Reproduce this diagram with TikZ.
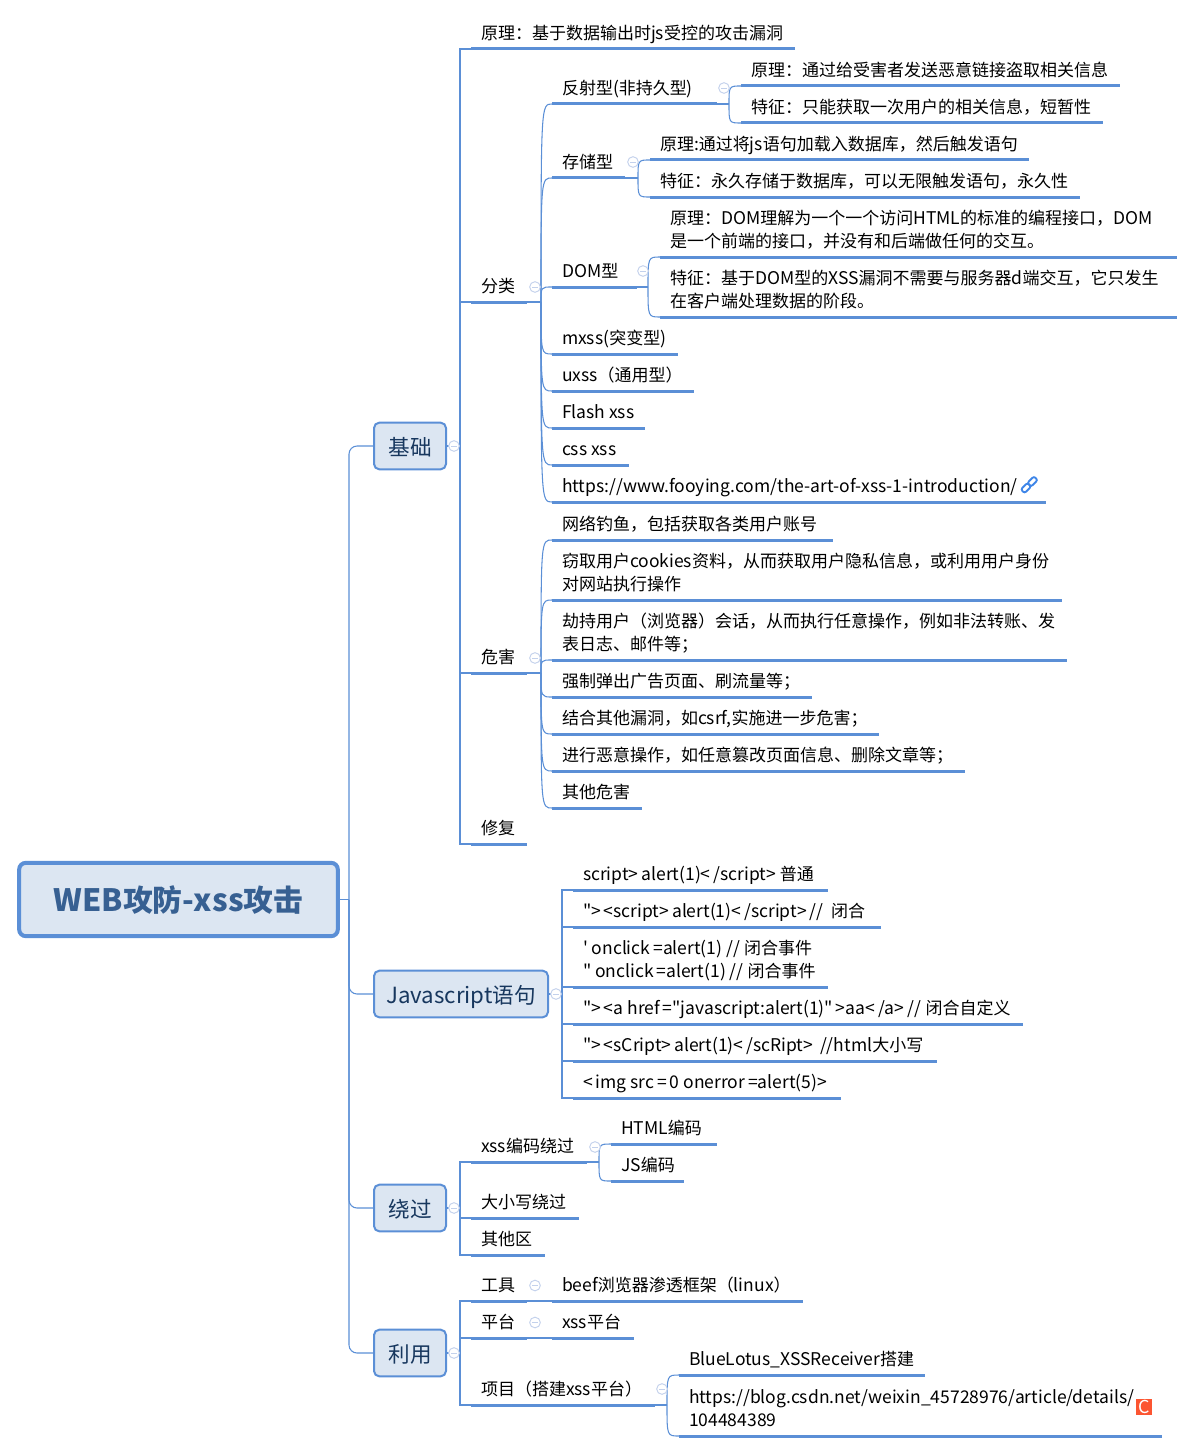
\documentclass[tikz,border=0pt]{standalone}
\usepackage{fontspec}
\usetikzlibrary{positioning}
\newfontfamily\mapcjk{Noto Sans CJK SC}
\newfontfamily\maplatin[Scale=1.03]{Noto Sans CJK SC}
% Han and full-width signs stay at full size, the rest is set a little larger
\newXeTeXintercharclass\hanclass
\count255="20
\loop\XeTeXcharclass\count255=0 \ifnum\count255<"7E \advance\count255 by 1 \repeat
\count255="3000
\loop\XeTeXcharclass\count255=\hanclass \ifnum\count255<"303F \advance\count255 by 1 \repeat
\count255="4E00
\loop\XeTeXcharclass\count255=\hanclass \ifnum\count255<"9FFF \advance\count255 by 1 \repeat
\count255="FF00
\loop\XeTeXcharclass\count255=\hanclass \ifnum\count255<"FFEF \advance\count255 by 1 \repeat
\XeTeXinterchartoks 0 \hanclass = {\mapcjk}
\XeTeXinterchartoks \hanclass 0 = {\maplatin}
\XeTeXinterchartoks 4095 0 = {\maplatin}
\XeTeXinterchartoks 4095 \hanclass = {\mapcjk}
\XeTeXinterchartokenstate=1

\definecolor{linkblue}{HTML}{5B8FD6}
\definecolor{rootfill}{HTML}{DCE6F2}
\definecolor{roottext}{HTML}{376092}
\definecolor{boxtext}{HTML}{17375E}
\definecolor{foldblue}{HTML}{C3D1EC}
\definecolor{chainblue}{HTML}{3F86E8}
\definecolor{csdnred}{HTML}{FC5531}

\tikzset{
  topic/.style={anchor=south west,inner xsep=7.5pt,inner ysep=0pt,outer sep=0pt,align=flush left,
    execute at end node={\vrule width 0pt depth 7.1pt},font=\mapcjk\fontsize{12.75}{17.25}\selectfont},
  rule/.style={draw=linkblue,line width=2.25pt},
  branch/.style={draw=linkblue,line width=0.8pt},
  rootbox/.style={draw=linkblue,fill=rootfill,line width=3pt,rounded corners=5pt,outer sep=0pt,
    minimum width=239pt,minimum height=55pt,text=roottext,text height=19.5pt,text depth=1pt,
    font=\mapcjk\bfseries\fontsize{22.4}{26}\selectfont},
  mainbox/.style={draw=linkblue,fill=rootfill,line width=1.5pt,rounded corners=4pt,outer sep=0pt,
    minimum width=54pt,minimum height=35pt,text=boxtext,text height=15pt,text depth=1.2pt,
    font=\mapcjk\fontsize{16.2}{20}\selectfont},
  fold/.style={circle,draw=foldblue,fill=white,line width=0.7pt,minimum size=8pt,inner sep=0pt,outer sep=0pt,
    path picture={\draw[foldblue,line width=0.7pt] ([xshift=-2pt]path picture bounding box.center) -- ([xshift=2pt]path picture bounding box.center);}},
  chainlink/.style={draw=chainblue,line width=1.4pt,rounded corners=1.6pt,minimum width=7pt,minimum height=4pt,inner sep=0pt,outer sep=0pt},
  csdn/.style={fill=csdnred,text=white,minimum size=12pt,inner sep=0pt,outer sep=0pt,font=\mapcjk\fontsize{13}{13}\selectfont}
}

% name, left, right, y of the rule, text
\newcommand{\topic}[5]{
  \pgfmathsetmacro\tw{(#3-#2-20)*0.75}
  \node[topic,text width=\tw pt] (#1) at (#2,#4) {#5};
  \draw[rule] (#1.south west) -- (#1.south east);
}
% parent, gap, children
\newcommand{\fan}[3]{
  \draw[branch] (#1.south east) -- ++(#2,0) coordinate (#1fork);
  \foreach \kid in {#3}
    \draw[branch] (#1fork) .. controls (#1fork |- \kid.south west) .. (\kid.south west);
}

\begin{document}
\begin{tikzpicture}[x=0.75pt,y=-0.75pt]
\useasboundingbox (0,0) rectangle (1194,1452);

\node[rootbox] (root) at (178.5,899.5) {WEB攻防-xss攻击};
\node[mainbox] (base) at (410,446) {基础};
\node[mainbox,minimum width=130.5pt] (js) at (461,994) {Javascript语句};
\node[mainbox] (bypass) at (410,1208) {绕过};
\node[mainbox] (use) at (410,1353) {利用};

% base
\topic{basetheory}{471}{795}{49}{原理：基于数据输出时js受控的攻击漏洞}
\topic{kinds}{471}{527}{302}{分类}
\topic{harm}{471}{527}{673}{危害}
\topic{fix}{471}{527}{844}{修复}

\topic{reflect}{552}{717}{104}{反射型(非持久型)}
\topic{store}{552}{625}{178}{存储型}
\topic{dom}{552}{637}{287}{DOM型}
\topic{mxss}{552}{678}{354}{mxss(突变型)}
\topic{uxss}{552}{694}{391}{uxss（通用型）}
\topic{flash}{552}{645}{428}{Flash~xss}
\topic{css}{552}{629}{465}{css~xss}
\topic{url}{552}{1046}{502}{https://www.fooying.com/the-art-of-xss-1-introduction/}

\topic{reflecta}{741}{1120}{86}{原理：通过给受害者发送恶意链接盗取相关信息}
\topic{reflectb}{741}{1103}{123}{特征：只能获取一次用户的相关信息，短暂性}
\topic{storea}{650}{1029}{160}{原理:通过将js语句加载入数据库，然后触发语句}
\topic{storeb}{650}{1080}{197}{特征：永久存储于数据库，可以无限触发语句，永久性}
\topic{doma}{660}{1177}{257}{原理：DOM理解为一个一个访问HTML的标准的编程接口，DOM\\是一个前端的接口，并没有和后端做任何的交互。}
\topic{domb}{660}{1177}{317}{特征：基于DOM型的XSS漏洞不需要与服务器d端交互，它只发生\\在客户端处理数据的阶段。}

\topic{harma}{552}{833}{540}{网络钓鱼，包括获取各类用户账号}
\topic{harmb}{552}{1062}{600}{窃取用户cookies资料，从而获取用户隐私信息，或利用用户身份\\对网站执行操作}
\topic{harmc}{552}{1067}{660}{劫持用户（浏览器）会话，从而执行任意操作，例如非法转账、发\\表日志、邮件等；}
\topic{harmd}{552}{812}{697}{强制弹出广告页面、刷流量等；}
\topic{harme}{552}{879}{734}{结合其他漏洞，如csrf,实施进一步危害；}
\topic{harmf}{552}{965}{771}{进行恶意操作，如任意篡改页面信息、删除文章等；}
\topic{harmg}{552}{642}{808}{其他危害}

% js
\topic{jsa}{573}{828}{890}{script>\,alert(1)<\,/script>~普通}
\topic{jsb}{573}{881}{927}{">\,<script>\,alert(1)<\,/script>\,//~~闭合}
\topic{jsc}{573}{828}{987}{'~onclick\,=alert(1)~//~闭合事件\\"~onclick\,=alert(1)~//~闭合事件}
\topic{jsd}{573}{1023}{1024}{">\,<a~href\,="javascript:alert(1)"\,>aa<\,/a>~//~闭合自定义}
\topic{jse}{573}{937}{1061}{">\,<sCript>\,alert(1)<\,/scRipt>\,~//html大小写}
\topic{jsf}{573}{841}{1098}{<\,img~src\,=\,0~onerror\,=alert(5)>}

% bypass
\topic{encode}{471}{587}{1162}{xss编码绕过}
\topic{casing}{471}{579}{1218}{大小写绕过}
\topic{otherarea}{471}{545}{1255}{其他区}
\topic{html}{611}{717}{1144}{HTML编码}
\topic{jscode}{611}{684}{1181}{JS编码}

% use
\topic{tool}{471}{527}{1301}{工具}
\topic{platform}{471}{527}{1338}{平台}
\topic{project}{471}{655}{1405}{项目（搭建xss平台）}
\topic{beef}{552}{803}{1301}{beef浏览器渗透框架（linux）}
\topic{xssplat}{552}{634}{1338}{xss平台}
\topic{lotus}{679}{925}{1375}{BlueLotus\_XSSReceiver搭建}
\topic{blog}{679}{1162}{1436}{https://blog.csdn.net/weixin\_45728976/article/details/\\104484389}

% connectors
\coordinate (spine) at (349,899.5);
\draw[branch] (root.east) -- (spine);
\foreach \kid in {base,js,bypass,use}
  \draw[branch,rounded corners=6pt] (spine) |- (\kid.west);

\coordinate (basefork) at (460,446);
\draw[branch] (base.east) -- (basefork);
\foreach \kid in {basetheory,kinds,harm,fix}
  \draw[branch] (basefork) |- (\kid.south west);

\coordinate (jsfork) at (562,994);
\draw[branch] (js.east) -- (jsfork);
\foreach \kid in {jsa,jsb,jsc,jsd,jse,jsf}
  \draw[branch] (jsfork) |- (\kid.south west);

\coordinate (bypassfork) at (460,1208);
\draw[branch] (bypass.east) -- (bypassfork);
\foreach \kid in {encode,casing,otherarea}
  \draw[branch] (bypassfork) |- (\kid.south west);

\coordinate (usefork) at (460,1353);
\draw[branch] (use.east) -- (usefork);
\foreach \kid in {tool,platform,project}
  \draw[branch] (usefork) |- (\kid.south west);

\fan{kinds}{14}{reflect,store,dom,mxss,uxss,flash,css,url}
\fan{harm}{14}{harma,harmb,harmc,harmd,harme,harmf,harmg}
\fan{reflect}{12}{reflecta,reflectb}
\fan{store}{13}{storea,storeb}
\fan{dom}{11}{doma,domb}
\fan{encode}{12}{html,jscode}
\fan{project}{12}{lotus,blog}
\draw[branch] (tool.south east) -- (beef.south west);
\draw[branch] (platform.south east) -- (xssplat.south west);

% fold marks
\foreach \fname/\fx/\fy in {base/454/446,kinds/535/287,reflect/724/88,store/633/162,dom/643/271,harm/535/658,js/556/994,
    bypass/454/1208,encode/595/1147,use/454/1353,tool/535/1285.5,platform/535/1322.5,project/662/1389}
  \node[fold] (fold\fname) at (\fx,\fy) {};

% icons
\node[chainlink,rotate=45] (linka) at (1026,488) {};
\node[chainlink,rotate=45] (linkb) at (1032.5,481.5) {};
\node[csdn] (csdnmark) at (1144,1407) {C};
\end{tikzpicture}
\end{document}
